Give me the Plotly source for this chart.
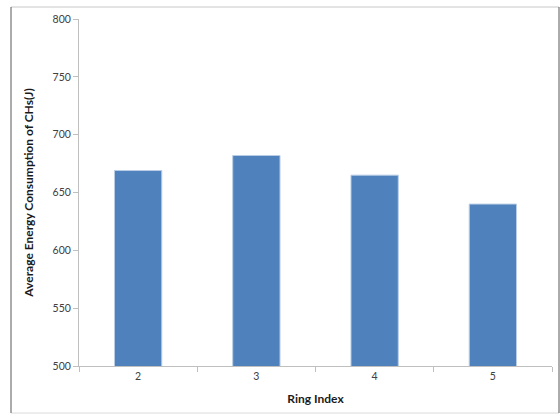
import plotly.graph_objects as go

categories = ["2", "3", "4", "5"]
energy = [669, 682, 665, 640]
y_ticks = [500, 550, 600, 650, 700, 750, 800]

font_family = "Lato, 'Open Sans', sans-serif"

fig = go.Figure()
fig.add_trace(go.Bar(
    x=categories,
    y=energy,
    marker=dict(color="#4F81BD", line=dict(color="#B9CDE5", width=1)),
    width=0.4,
))

L, R, T, B = 79, 8, 19, 49
W, H = 560, 415
pw = W - L - R
ph = H - T - B

def px(x):
    return (x - L) / pw

def py(y):
    return (H - B - y) / ph

fig.update_layout(
    width=W, height=H,
    margin=dict(l=L, r=R, t=T, b=B),
    paper_bgcolor="white",
    plot_bgcolor="white",
    showlegend=False,
    font=dict(family=font_family, size=10, color="#404040"),
    xaxis=dict(
        type="category",
        showline=True, linecolor="#BFBFBF", linewidth=1,
        ticks="outside", tickson="boundaries", ticklen=5, tickcolor="#BFBFBF",
        showgrid=False,
        tickfont=dict(size=10.5, color="#404040"),
        title=dict(text="<b>Ring Index</b>", font=dict(size=12, color="#1a1a1a"), standoff=14),
    ),
    yaxis=dict(
        range=[500, 800],
        tickvals=y_ticks,
        showline=True, linecolor="#BFBFBF", linewidth=1,
        ticks="outside", ticklen=5, tickcolor="#BFBFBF",
        showgrid=False, zeroline=False,
        tickfont=dict(size=10.5, color="#404040"),
        title=dict(text="<b>Average Energy Consumption of CHs(J)</b>",
                   font=dict(size=12, color="#1a1a1a"), standoff=16),
    ),
    shapes=[
        dict(type="line", xref="paper", yref="paper", x0=px(11), x1=px(559), y0=py(7), y1=py(7),
             line=dict(color="#C8C8C8", width=1)),
        dict(type="line", xref="paper", yref="paper", x0=px(11), x1=px(559), y0=py(413), y1=py(413),
             line=dict(color="#DADADA", width=1)),
        dict(type="line", xref="paper", yref="paper", x0=px(11), x1=px(11), y0=py(7), y1=py(413),
             line=dict(color="#595959", width=1)),
        dict(type="line", xref="paper", yref="paper", x0=px(559), x1=px(559), y0=py(7), y1=py(413),
             line=dict(color="#595959", width=1)),
    ],
)

fig.write_html("out.html", config={"displayModeBar": False},
               post_script="document.body.style.margin='0px';document.body.style.overflow='hidden';")
